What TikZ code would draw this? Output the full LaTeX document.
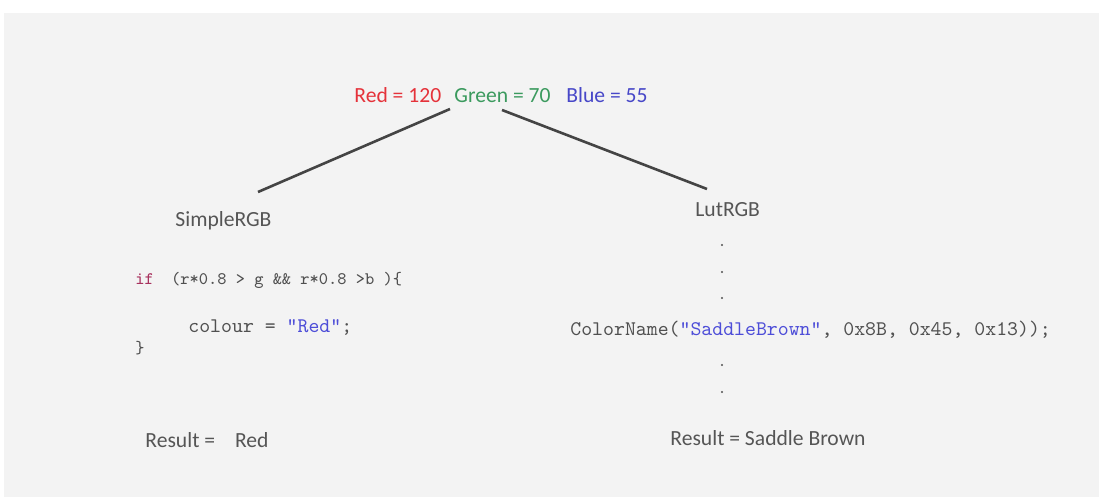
\documentclass[tikz,border=0pt]{standalone}
\usepackage{fontspec}
\setmainfont{Carlito}
\definecolor{bggray}{HTML}{F3F3F3}
\definecolor{cred}{HTML}{E5323A}
\definecolor{cgreen}{HTML}{3B9A5E}
\definecolor{cblue}{HTML}{4747C8}
\definecolor{codegray}{HTML}{505050}
\definecolor{txtgray}{HTML}{555555}
\definecolor{kwcol}{HTML}{A8325E}
\definecolor{strcol}{HTML}{4E4ED8}
\definecolor{linecol}{HTML}{444444}
\begin{document}
\begin{tikzpicture}[x=0.5pt,y=-0.5pt,
  lbl/.style={inner sep=0pt,anchor=base west,font=\fontsize{10.8}{13}\selectfont,text=txtgray},
  codebig/.style={inner sep=0pt,anchor=base west,font=\ttfamily\fontsize{10.4}{12}\selectfont,text=codegray},
  codesmall/.style={inner sep=0pt,anchor=base west,font=\ttfamily\fontsize{8.8}{10}\selectfont,text=codegray},
  dotnode/.style={circle,fill=codegray,inner sep=0pt,minimum size=1.2pt},
  conn/.style={draw=linecol,line width=1.3pt}]
\useasboundingbox (0,0) rectangle (1099,497);
\fill[white] (0,0) rectangle (1099,497);
\fill[bggray] (4,13) rectangle (1099,497);
% top values
\node[lbl,text=cred] (red) at (354,103) {Red = 120};
\node[lbl,text=cgreen] (green) at (454,103) {Green = 70};
\node[lbl,text=cblue] (blue) at (566,103) {Blue = 55};
% branch labels
\node[lbl] (simple) at (175,227) {SimpleRGB};
\node[lbl] (lut) at (695,217) {LutRGB};
% connectors
\coordinate (tl) at (450,109);
\coordinate (bl) at (258,192);
\coordinate (tr) at (502,110);
\coordinate (br) at (707,189);
\draw[conn] (tl) -- (bl);
\draw[conn] (tr) -- (br);
% left code
\node[codesmall] (ifline) at (135,285) {\textcolor{kwcol}{if}\hspace{4pt} (r*0.8 > g \&\& r*0.8 >b )\{};
\node[codebig] (colourline) at (188,333) {colour = \textcolor{strcol}{"Red"};};
\node[codesmall] (brace) at (135,354) {\}};
% right code
\node[codebig] (colorname) at (570,336) {ColorName(\textcolor{strcol}{"SaddleBrown"}, 0x8B, 0x45, 0x13));};
\node[dotnode] (d1) at (722,245) {};
\node[dotnode] (d2) at (722,272) {};
\node[dotnode] (d3) at (722,298) {};
\node[dotnode] (d4) at (722,365) {};
\node[dotnode] (d5) at (722,392) {};
% results
\node[lbl] (resred) at (145,448) {Result =\hspace{10pt}Red};
\node[lbl] (resbrown) at (670,446) {Result = Saddle Brown};
\end{tikzpicture}
\end{document}
